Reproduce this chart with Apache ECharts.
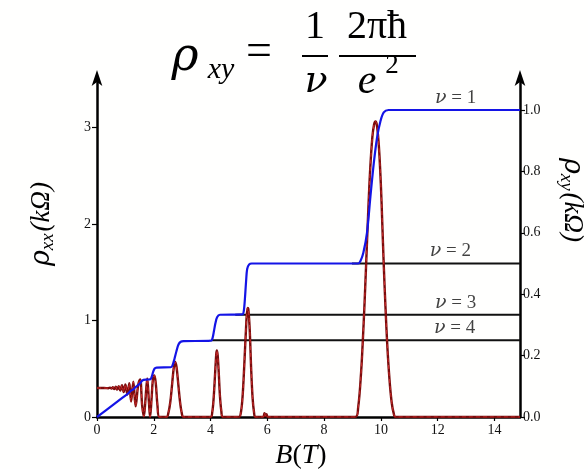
<!DOCTYPE html>
<html><head><meta charset="utf-8">
<script src="https://cdn.jsdelivr.net/npm/echarts@6/dist/echarts.min.js"></script>
<style>html,body{margin:0;padding:0;background:#fff}#c{width:588px;height:469px}</style>
</head><body><div id="c"></div>
<script>
// ρxx (kΩ) vs B (T) — left axis
const rhoxx = [
 [0,0.300],[0.25,0.300],[0.40,0.298],[0.46,0.303],[0.51,0.294],[0.56,0.308],[0.61,0.289],
 [0.66,0.313],[0.71,0.283],[0.765,0.319],[0.82,0.273],[0.88,0.328],[0.94,0.258],[1.00,0.338],
 [1.07,0.232],[1.14,0.350],[1.20,0.160],[1.28,0.365],[1.36,0.110],[1.45,0.33],[1.52,0.390],
 [1.59,0.12],[1.65,0.005],[1.70,0.15],[1.77,0.400],[1.83,0.15],[1.87,0.0],[1.92,0.18],
 [1.97,0.39],[2.02,0.430],[2.07,0.35],[2.13,0.12],[2.20,0.0],[2.45,0.0],
 [2.52,0.05],[2.58,0.15],[2.64,0.32],[2.70,0.50],[2.75,0.570],[2.80,0.52],[2.86,0.35],[2.92,0.17],[2.98,0.05],[3.05,0.0],
 [4.00,0.0],[4.06,0.05],[4.11,0.20],[4.16,0.45],[4.20,0.65],[4.22,0.690],[4.25,0.64],[4.29,0.45],[4.33,0.22],[4.38,0.06],[4.43,0.0],
 [5.00,0.0],[5.07,0.05],[5.13,0.22],[5.19,0.55],[5.25,0.92],[5.30,1.130],[5.33,1.12],[5.38,0.90],[5.43,0.50],[5.48,0.20],[5.53,0.05],[5.58,0.0],
 [5.85,0.0],[5.90,0.04],[5.93,0.01],[5.97,0.03],[6.02,0.0],
 [9.10,0.0],[9.20,0.10],[9.30,0.45],[9.36,0.77],[9.42,1.15],[9.48,1.58],[9.55,2.10],[9.62,2.55],[9.70,2.90],[9.76,3.03],
 [9.81,3.060],[9.86,3.02],[9.93,2.80],[10.00,2.40],[10.05,2.00],[10.10,1.58],[10.16,1.15],[10.22,0.77],[10.30,0.40],
 [10.38,0.15],[10.45,0.04],[10.52,0.0],[14.9,0.0]
];
// ρxy (kΩ) vs B (T) — right axis
const rhoxy = [
 [0,0],[0.3,0.021],[0.6,0.042],[0.9,0.063],[1.1,0.077],[1.2,0.086],[1.28,0.090],[1.35,0.097],[1.45,0.104],
 [1.52,0.110],[1.58,0.117],[1.64,0.121],[1.75,0.122],[1.88,0.123],[1.93,0.132],[1.98,0.148],[2.03,0.158],[2.10,0.161],
 [2.60,0.162],[2.66,0.168],[2.73,0.190],[2.80,0.215],[2.87,0.236],[2.95,0.245],[3.05,0.247],[4.02,0.249],
 [4.07,0.257],[4.12,0.280],[4.17,0.305],[4.23,0.325],[4.33,0.333],[5.12,0.334],[5.17,0.345],[5.21,0.385],
 [5.25,0.440],[5.29,0.482],[5.36,0.497],[5.45,0.500],[9.20,0.500],[9.28,0.508],[9.38,0.534],[9.51,0.600],
 [9.63,0.717],[9.75,0.827],[9.87,0.913],[9.98,0.962],[10.10,0.992],[10.27,1.000],[14.9,1.000]
];
// quantised Hall levels h/(νe²) drawn as reference lines
const nu2Line = [[8.98,0.5],[14.9,0.5]];
const nu3Line = [[4.87,0.3333],[14.9,0.3333]];
const nu4Line = [[4.02,0.25],[14.9,0.25]];
const nuLabels = [[12.63,1.0,'1'],[12.45,0.5,'2'],[12.63,0.3333,'3'],[12.6,0.25,'4']];
const xTicks = [0,2,4,6,8,10,12,14];
const leftTicks = [0,1,2,3];
const rightTicks = [0,0.2,0.4,0.6,0.8,1.0];

const serif = "'Liberation Serif', 'DejaVu Serif', serif";
const greek = "'DejaVu Serif', serif";
const chart = echarts.init(document.getElementById('c'), null, {renderer:'canvas'});
const axisLineStyle = {color:'#000', width:2.5};
const lbl = {fontFamily:serif, fontSize:14, color:'#111'};
const blackLine = (d) => ({type:'line', yAxisIndex:1, data:d, symbol:'none', lineStyle:{color:'#111', width:2}, z:2, silent:true});
const T = (x, y, text, font, align) => ({type:'text', x:x, y:y, style:{text:text, font:font, fill:'#000', align:align||'center', verticalAlign:'middle'}});

chart.setOption({
  animation:false,
  backgroundColor:'#fffffe',
  grid:{left:97, right:68, top:79, bottom:52},
  xAxis:{type:'value', min:0, max:14.9, interval:2,
    axisLine:{lineStyle:axisLineStyle}, splitLine:{show:false},
    axisTick:{length:4, lineStyle:{color:'#000', width:1.2}, customValues:xTicks},
    axisLabel:Object.assign({margin:6, customValues:xTicks}, lbl)},
  yAxis:[
    {type:'value', min:0, max:3.5, position:'left',
     axisLine:{show:true, lineStyle:axisLineStyle, symbol:['none','arrow'], symbolSize:[8,16], symbolOffset:[0,9]},
     splitLine:{show:false},
     axisTick:{show:true, length:5, lineStyle:{color:'#000', width:1.2}, customValues:leftTicks},
     axisLabel:Object.assign({margin:6, customValues:leftTicks}, lbl)},
    {type:'value', min:0, max:1.101, position:'right',
     axisLine:{show:true, lineStyle:axisLineStyle, symbol:['none','arrow'], symbolSize:[8,16], symbolOffset:[0,9]},
     splitLine:{show:false},
     axisTick:{show:true, length:5, lineStyle:{color:'#000', width:1.2}, customValues:rightTicks},
     axisLabel:Object.assign({margin:3, customValues:rightTicks, formatter:(v)=>v.toFixed(1)}, lbl)}
  ],
  series:[
    blackLine(nu2Line), blackLine(nu3Line), blackLine(nu4Line),
    {type:'line', yAxisIndex:0, data:rhoxx, symbol:'none', smooth:0.35, lineStyle:{color:'#7a0c0c', width:2.4}, z:3},
    {type:'line', yAxisIndex:0, data:rhoxx, symbol:'none', smooth:0.35, lineStyle:{color:'#d23030', width:0.9, type:[4,3]}, z:4},
    {type:'line', yAxisIndex:1, data:rhoxy, symbol:'none', smooth:0.3, lineStyle:{color:'#1414e6', width:2.2}, z:5},
    {type:'scatter', yAxisIndex:1, data:nuLabels, symbolSize:1, itemStyle:{color:'transparent'}, z:6,
     label:{show:true, position:'top', distance:2, color:'#111', fontFamily:serif, fontSize:19,
       formatter:(p)=>'{i|ν} = '+p.value[2], rich:{i:{fontStyle:'italic', fontFamily:greek, fontSize:19}}}}
  ],
  graphic:[
    // formula title  ρ_xy = (1/ν)(2πħ/e²)
    T(185, 58, 'ρ', "italic 46px "+greek),
    T(221, 70, 'xy', "italic 30px "+serif),
    T(259, 53, '=', "46px "+serif),
    T(315, 27, '1', "40px "+serif),
    {type:'rect', shape:{x:302, y:55, width:26, height:2}, style:{fill:'#000'}},
    T(316, 82, 'ν', "italic 38px "+greek),
    T(377, 27, '2πħ', "40px "+serif),
    {type:'rect', shape:{x:339, y:55, width:77, height:2}, style:{fill:'#000'}},
    T(367, 82, 'e', "italic 42px "+serif),
    T(392, 66, '2', "27px "+serif),
    // axis names
    {type:'text', x:42, y:224, rotation:Math.PI/2,
     style:{text:'{i|ρ}{s|xx}{n|(kΩ)}', align:'center', verticalAlign:'middle',
       rich:{i:{font:"italic 27px "+greek, fill:'#000'}, s:{font:"italic 19px "+serif, fill:'#000', verticalAlign:'bottom', padding:[12,2,0,0]}, n:{font:"italic 27px "+serif, fill:'#000'}}}},
    {type:'text', x:572, y:200, rotation:-Math.PI/2,
     style:{text:'{i|ρ}{s|xy}{n|(kΩ)}', align:'center', verticalAlign:'middle',
       rich:{i:{font:"italic 27px "+greek, fill:'#000'}, s:{font:"italic 19px "+serif, fill:'#000', verticalAlign:'bottom', padding:[12,2,0,0]}, n:{font:"italic 27px "+serif, fill:'#000'}}}},
    {type:'text', x:301, y:456,
     style:{text:'{i|B}{n|(}{i|T}{n|)}', align:'center', verticalAlign:'middle',
       rich:{i:{font:"italic 28px "+serif, fill:'#000'}, n:{font:"28px "+serif, fill:'#000'}}}}
  ]
});
</script></body></html>
